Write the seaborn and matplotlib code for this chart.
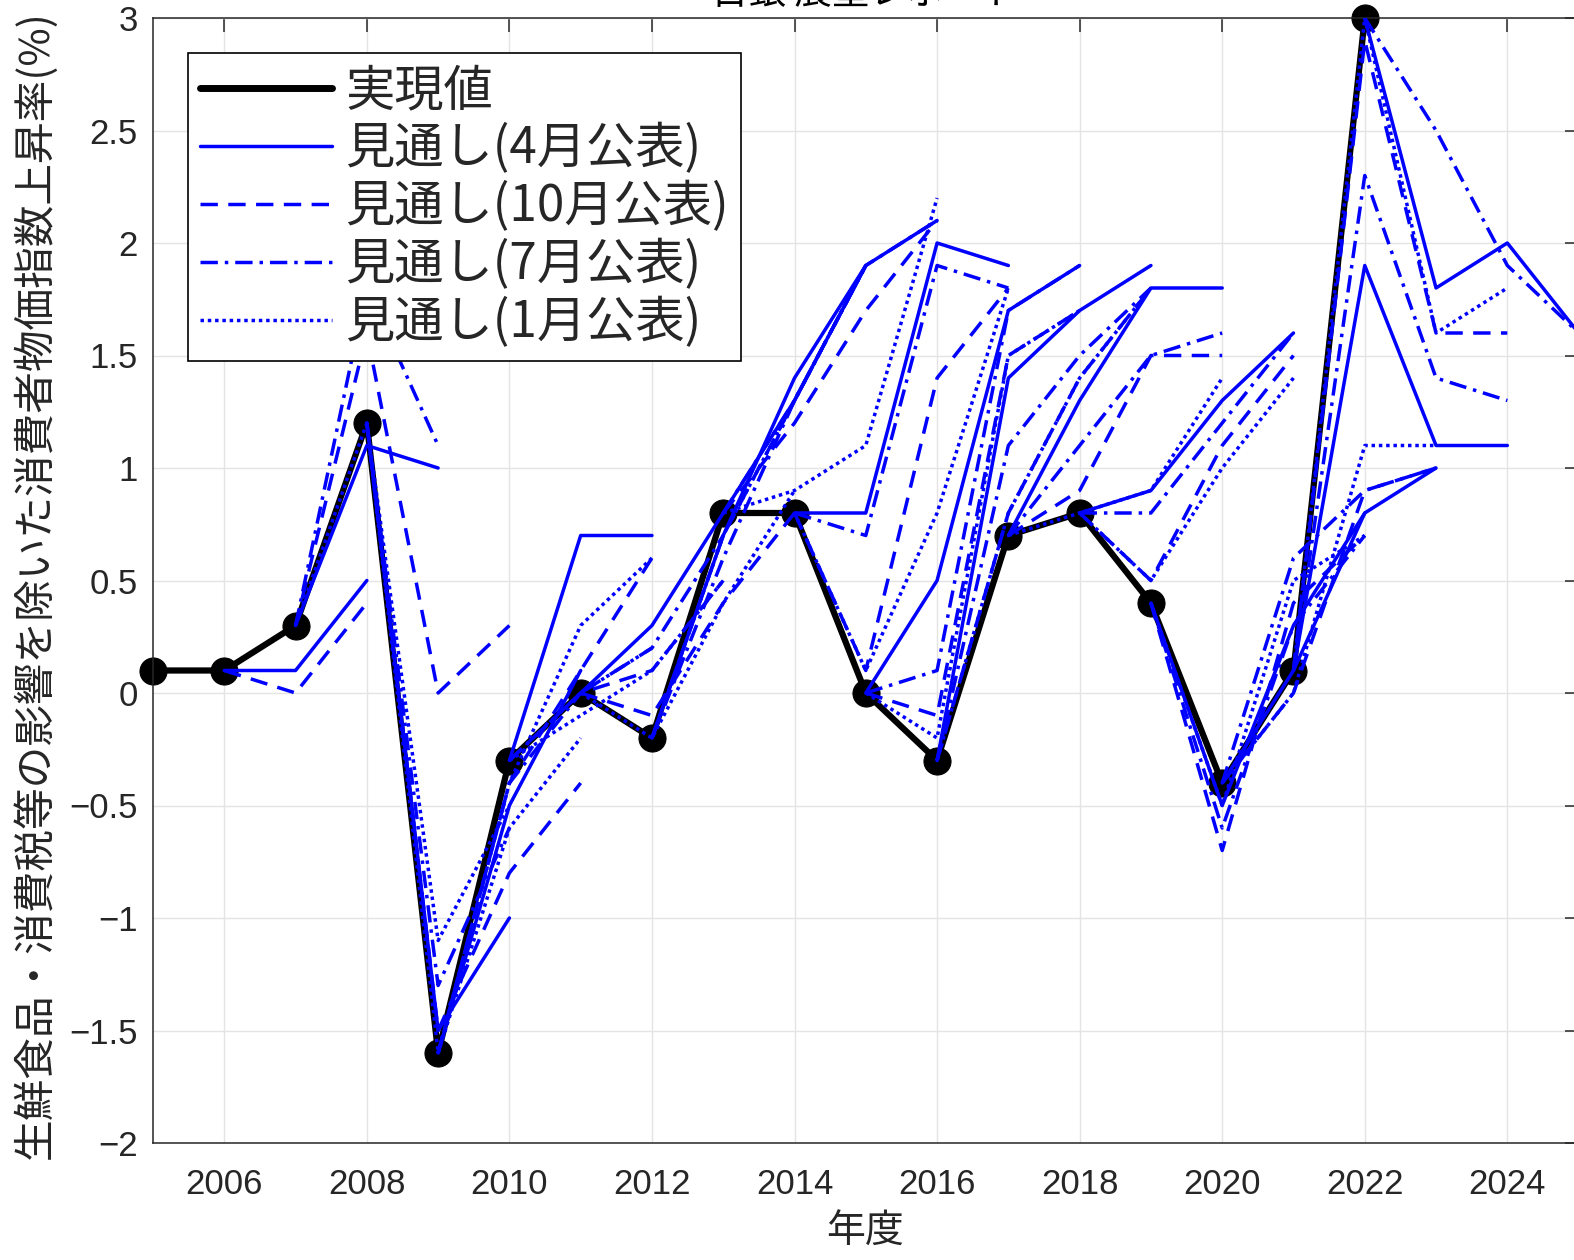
import matplotlib
matplotlib.use("Agg")
import matplotlib.pyplot as plt
import pandas as pd
import seaborn as sns
from matplotlib.lines import Line2D
from matplotlib.ticker import FuncFormatter, MultipleLocator

sns.set_style("white")
plt.rcParams["font.family"] = ["Noto Sans CJK JP", "DejaVu Sans"]

# --- data (fiscal year, core CPI % y/y) ---

years = list(range(2005, 2023))
actual = [0.1, 0.1, 0.3, 1.2, -1.6, -0.3, 0.0, -0.2, 0.8,
          0.8, 0.0, -0.3, 0.7, 0.8, 0.4, -0.4, 0.1, 3.0]

# forecasts keyed by the fiscal year of the report: values for FY, FY+1, FY+2
apr_fc = {
    2007: [0.1, 0.5],
    2008: [1.1, 1.0],
    2009: [-1.5, -1.0],
    2010: [-0.5, 0.1],
    2011: [0.7, 0.7],
    2012: [0.3, 0.8],
    2013: [0.7, 1.4, 1.9],
    2014: [1.3, 1.9, 2.1],
    2015: [0.8, 2.0, 1.9],
    2016: [0.5, 1.7, 1.9],
    2017: [1.4, 1.7, 1.9],
    2018: [1.3, 1.8, 1.8],
    2019: [0.9, 1.3, 1.6],
    2020: [-0.5, 0.3, 0.8],
    2021: [0.1, 0.8, 1.0],
    2022: [1.9, 1.1, 1.1],
    2023: [1.8, 2.0, 1.6],
}
jul_fc = {
    2008: [1.8, 1.1],
    2009: [-1.3, -0.6],
    2010: [-0.4, 0.0],
    2011: [0.0, 0.2],
    2012: [0.2, 0.7],
    2013: [0.6, 1.3, 1.9],
    2014: [1.3, 1.9, 2.1],
    2015: [0.7, 1.9, 1.8],
    2016: [0.1, 1.7, 1.9],
    2017: [1.1, 1.5, 1.8],
    2018: [1.1, 1.5, 1.6],
    2019: [0.8, 1.2, 1.6],
    2020: [-0.6, 0.3, 0.7],
    2021: [0.6, 0.9, 1.0],
    2022: [2.3, 1.4, 1.3],
    2023: [2.5, 1.9, 1.6],
}
oct_fc = {
    2007: [0.0, 0.4],
    2008: [1.6, 0.0, 0.3],
    2009: [-1.5, -0.8, -0.4],
    2010: [-0.4, 0.1, 0.6],
    2011: [0.0, 0.1, 0.5],
    2012: [-0.1, 0.4, 0.8],
    2013: [0.7, 1.3, 1.9],
    2014: [1.2, 1.7, 2.1],
    2015: [0.1, 1.4, 1.8],
    2016: [-0.1, 1.5, 1.7],
    2017: [0.8, 1.4, 1.8],
    2018: [0.9, 1.5, 1.5],
    2019: [0.5, 1.1, 1.5],
    2020: [-0.7, 0.4, 0.7],
    2021: [0.0, 0.9, 1.0],
    2022: [2.9, 1.6, 1.6],
}
jan_fc = {
    2008: [1.2, -1.1, -0.5],
    2009: [-1.6, -0.6, -0.2],
    2010: [-0.4, 0.3, 0.6],
    2011: [-0.1, 0.1, 0.5],
    2012: [-0.2, 0.4, 0.9],
    2013: [0.7, 1.3, 1.9],
    2014: [0.9, 1.1, 2.2],
    2015: [0.1, 0.8, 1.8],
    2016: [-0.2, 1.5, 1.7],
    2017: [0.8, 1.4, 1.8],
    2018: [0.8, 0.9, 1.4],
    2019: [0.5, 1.0, 1.4],
    2020: [-0.5, 0.5, 0.7],
    2021: [0.0, 1.1, 1.1],
    2022: [3.0, 1.6, 1.8],
}

# each forecast line starts at the last known actual (FY-1)
rows = []
for month, fc in [("4月", apr_fc), ("7月", jul_fc), ("10月", oct_fc), ("1月", jan_fc)]:
    for fy, vals in fc.items():
        pts = [actual[years.index(fy - 1)]] + vals
        for k, v in enumerate(pts):
            rows.append({"year": fy - 1 + k, "value": v,
                         "report": f"{fy}-{month}", "kind": month})
fc_df = pd.DataFrame(rows)

dash_map = {"4月": "", "7月": (5, 2, 1, 2), "10月": (5, 3), "1月": (1, 1.1)}

# --- plot ---

fig = plt.figure(figsize=(15.74, 12.60), dpi=100)
ax = fig.add_axes([153 / 1574, 117 / 1260, 1425.6 / 1574, 1125 / 1260])

sns.lineplot(x=years, y=actual, color="black", linewidth=4.5, marker="o",
             markersize=19.5, markeredgecolor="black", ax=ax, zorder=2,
             clip_on=False)

sns.lineplot(data=fc_df, x="year", y="value", units="report", estimator=None,
             style="kind", dashes=dash_map, color="blue", linewidth=2.5,
             sort=False, legend=False, ax=ax, zorder=3)

ax.set_xlim(2005, 2025)
ax.set_ylim(-2, 3)
ax.set_xticks(range(2006, 2025, 2))
ax.yaxis.set_major_locator(MultipleLocator(0.5))
ax.yaxis.set_major_formatter(FuncFormatter(lambda v, p: f"{v:g}".replace("-", "\u2212")))

ax.grid(True, color="#e4e4e4", linewidth=1.0)
ax.set_axisbelow(True)
for s in ax.spines.values():
    s.set_color("#262626")
    s.set_linewidth(1.1)
ax.tick_params(direction="in", length=10, width=1.1, color="#262626",
               top=True, right=True, labelsize=25, labelcolor="#262626")
ax.tick_params(axis="x", pad=18)
ax.tick_params(axis="y", pad=11)
for lab in ax.get_xticklabels() + ax.get_yticklabels():
    lab.set_family(["Liberation Sans", "DejaVu Sans"])

ax.set_xlabel("")
ax.set_ylabel("")
fig.text(865 / 1574, 1 - 1232 / 1260, "年度", ha="center", va="center",
         fontsize=28, color="#262626")
fig.text(35 / 1574, 1 - 585 / 1260,
         "生鮮食品・消費税等の影響を除いた消費者物価指数上昇率(%)",
         rotation=90, ha="center", va="center", fontsize=30, color="#262626")
fig.text(865 / 1574, 1 - 13 / 1260, "日銀 展望レポート", ha="center",
         va="bottom", fontsize=27, color="black")

handles = [
    Line2D([], [], color="black", linewidth=5, label="実現値"),
    Line2D([], [], color="blue", linewidth=2.5, linestyle="-", label="見通し(4月公表)"),
    Line2D([], [], color="blue", linewidth=2.5, dashes=dash_map["10月"], label="見通し(10月公表)"),
    Line2D([], [], color="blue", linewidth=2.5, dashes=dash_map["7月"], label="見通し(7月公表)"),
    Line2D([], [], color="blue", linewidth=2.5, dashes=dash_map["1月"], label="見通し(1月公表)"),
]
leg = ax.legend(handles=handles, loc="upper left",
                bbox_to_anchor=(35 / 1425.6, 1 - 35 / 1125), borderaxespad=0,
                fontsize=35.5, handlelength=2.67, handletextpad=0.27,
                labelspacing=0.12, borderpad=0.25, fancybox=False,
                framealpha=1, edgecolor="black")
leg.get_frame().set_linewidth(1.2)

fig.savefig("out.png", dpi=100, facecolor="white")
